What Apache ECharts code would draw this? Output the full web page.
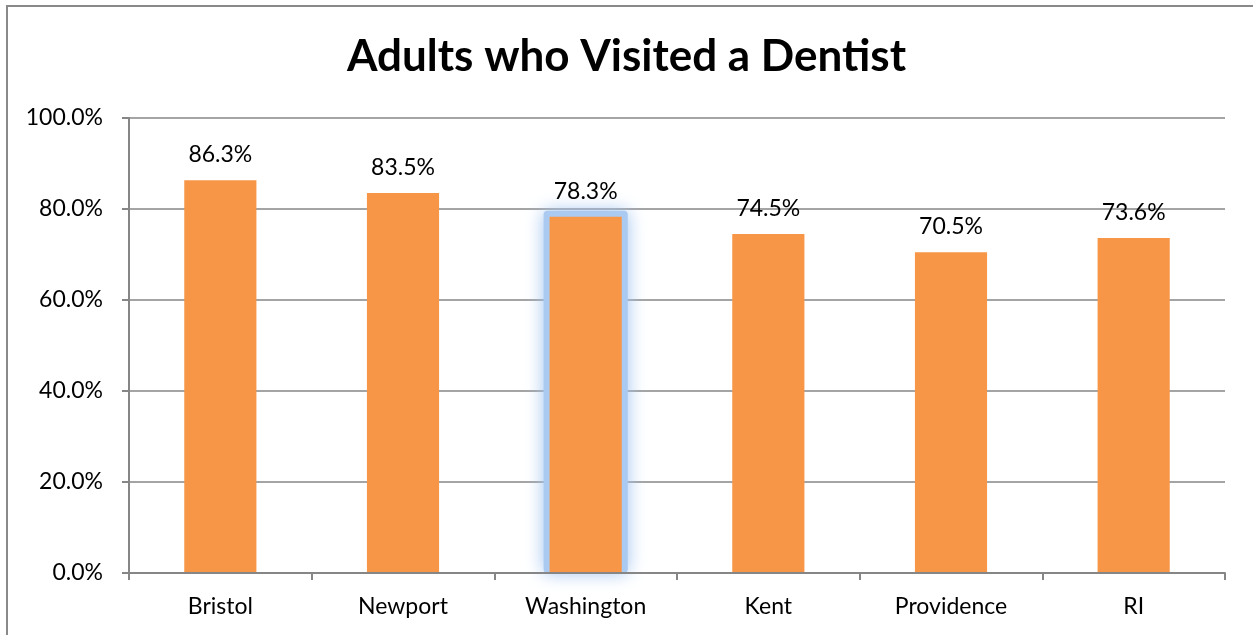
<!DOCTYPE html>
<html>
<head>
<meta charset="utf-8">
<script src="https://cdn.jsdelivr.net/npm/echarts@6/dist/echarts.min.js"></script>
<style>
html,body{margin:0;padding:0;background:#fff;}
#chart{width:1253px;height:635px;}
</style>
</head>
<body>
<div id="chart"></div>
<script>
const categories = ['Bristol', 'Newport', 'Washington', 'Kent', 'Providence', 'RI'];
const values = [86.3, 83.5, 78.3, 74.5, 70.5, 73.6];
const highlightCategory = 'Washington';
const yTicks = { min: 0, max: 100, interval: 20 };

const fontFam = 'Lato, "Open Sans", "Liberation Sans", sans-serif';
const barFrac = 0.395;
const chart = echarts.init(document.getElementById('chart'));
const hi = categories.indexOf(highlightCategory);
chart.setOption({
  backgroundColor: '#fff',
  animation: false,
  title: {
    text: 'Adults who Visited a Dentist',
    left: 'center',
    top: 30,
    textStyle: { fontFamily: fontFam, fontWeight: 'bold', fontSize: 44, color: '#000' }
  },
  graphic: [{
    type: 'rect',
    shape: { x: 7, y: 6, width: 1400, height: 800 },
    style: { fill: 'none', stroke: '#898989', lineWidth: 2 },
    silent: true
  }],
  grid: { left: 129, right: 28, top: 118, bottom: 62 },
  xAxis: {
    type: 'category',
    data: categories,
    z: 5,
    axisLine: { lineStyle: { color: '#868686', width: 2 } },
    axisTick: { show: true, length: 7, lineStyle: { color: '#868686', width: 2 } },
    axisLabel: { color: '#000', fontFamily: fontFam, fontSize: 23, margin: 22 }
  },
  yAxis: {
    type: 'value',
    min: yTicks.min, max: yTicks.max, interval: yTicks.interval,
    axisLine: { show: true, lineStyle: { color: '#868686', width: 2 } },
    axisTick: { show: true, length: 7, lineStyle: { color: '#868686', width: 2 } },
    splitLine: { lineStyle: { color: '#868686', width: 1.5 } },
    axisLabel: { color: '#000', fontFamily: fontFam, fontSize: 23, margin: 26,
      formatter: v => v.toFixed(1) + '%' }
  },
  series: [{
    type: 'custom',
    z: 1,
    silent: true,
    data: [[hi, values[hi]]],
    renderItem: (params, api) => {
      const top = api.coord([api.value(0), api.value(1)]);
      const bot = api.coord([api.value(0), 0]);
      const bw = api.size([1, 0])[0] * barFrac;
      const pad = 6;
      return {
        type: 'rect',
        shape: { x: top[0] - bw / 2 - pad, y: top[1] - pad, width: bw + 2 * pad, height: bot[1] - top[1] + pad, r: 4 },
        style: { fill: 'rgba(170,202,241,1)', shadowBlur: 18, shadowColor: 'rgba(160,195,240,1)' }
      };
    }
  }, {
    type: 'bar',
    z: 2,
    data: values,
    barWidth: (barFrac * 100) + '%',
    itemStyle: { color: '#F79646' },
    label: {
      show: true, position: 'top', distance: 14,
      color: '#000', fontFamily: fontFam, fontSize: 23,
      formatter: p => p.value.toFixed(1) + '%'
    }
  }]
});
</script>
</body>
</html>
